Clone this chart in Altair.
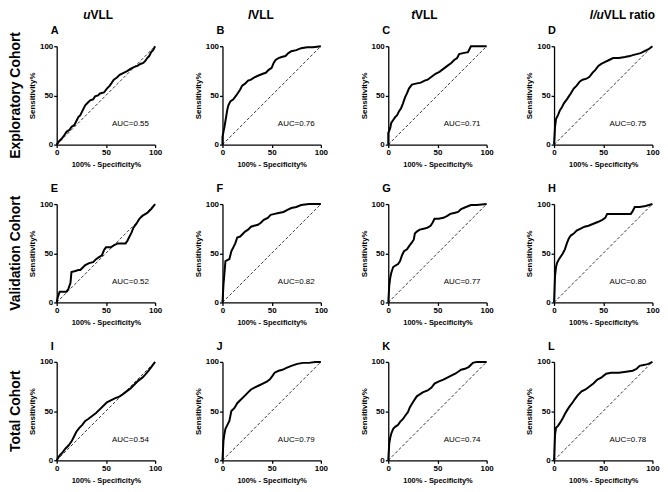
import altair as alt
import pandas as pd

FONT = "Liberation Sans"

# ---- data ----
A_fpr = [0, 2, 5, 8, 10, 13, 15, 18, 22, 24, 26, 29, 31, 34, 37, 39, 42, 44, 48, 51, 54, 58, 61, 64, 68, 72, 75, 79, 82, 85, 88, 90, 92, 94, 96, 98, 100]
A_tpr = [0, 3, 6, 10, 13, 15, 18, 20, 28, 30, 34, 40, 42, 45, 46, 49, 50, 52, 53, 57, 60, 66, 68, 71, 73, 75, 77, 79, 80, 82, 83, 85, 88, 90, 94, 96, 100]
B_fpr = [0, 0, 1, 2, 3, 5, 6, 8, 11, 14, 16, 18, 20, 23, 26, 29, 32, 36, 41, 44, 47, 50, 52, 54, 57, 60, 64, 67, 70, 75, 80, 86, 92, 100]
B_tpr = [0, 8, 13, 18, 24, 36, 40, 44, 46, 50, 53, 56, 60, 62, 65, 66, 68, 70, 72, 73, 76, 78, 83, 86, 88, 89, 90, 93, 95, 96, 98, 99, 99, 100]
C_fpr = [0, 0, 1, 2, 3, 5, 7, 9, 11, 13, 15, 17, 19, 21, 24, 28, 33, 37, 40, 44, 48, 52, 56, 60, 64, 67, 70, 72, 76, 81, 84, 90, 100]
C_tpr = [0, 12, 14, 17, 22, 25, 28, 30, 34, 37, 42, 48, 52, 57, 61, 62, 63, 65, 66, 69, 72, 74, 77, 80, 83, 86, 88, 92, 93, 94, 100, 100, 100]
D_fpr = [0, 1, 2, 4, 6, 8, 10, 13, 15, 17, 20, 23, 26, 29, 33, 36, 39, 42, 45, 48, 52, 56, 60, 66, 72, 77, 80, 84, 88, 92, 96, 100]
D_tpr = [0, 18, 26, 30, 35, 38, 42, 46, 49, 52, 57, 60, 64, 66, 67, 69, 73, 76, 80, 82, 84, 86, 88, 88, 89, 90, 91, 92, 93, 95, 97, 100]
E_fpr = [0, 1, 3, 10, 12, 14, 15, 19, 22, 24, 26, 29, 33, 37, 40, 43, 46, 48, 50, 55, 58, 62, 66, 70, 72, 74, 76, 78, 81, 84, 87, 92, 96, 100]
E_tpr = [0, 5, 11, 11, 14, 20, 31, 32, 33, 33, 35, 38, 40, 41, 44, 46, 48, 53, 56, 56, 58, 60, 60, 60, 63, 67, 71, 76, 80, 85, 88, 91, 95, 100]
F_fpr = [0, 1, 2, 3, 5, 7, 9, 11, 13, 15, 18, 20, 23, 26, 29, 32, 36, 39, 42, 46, 49, 53, 57, 62, 66, 70, 75, 80, 88, 100]
F_tpr = [0, 18, 30, 42, 43, 44, 52, 56, 60, 66, 67, 69, 72, 74, 77, 78, 79, 81, 84, 86, 89, 90, 91, 92, 94, 96, 97, 99, 100, 100]
G_fpr = [0, 1, 2, 3, 5, 8, 10, 12, 14, 16, 19, 21, 24, 26, 27, 29, 32, 36, 40, 43, 45, 47, 51, 56, 60, 63, 67, 71, 74, 79, 84, 90, 100]
G_tpr = [0, 17, 25, 30, 36, 38, 39, 42, 48, 52, 54, 57, 61, 64, 70, 72, 74, 75, 76, 78, 81, 85, 85, 86, 88, 90, 91, 92, 95, 97, 99, 99, 100]
H_fpr = [0, 1, 2, 3, 5, 7, 9, 11, 13, 15, 17, 20, 23, 27, 31, 35, 40, 45, 49, 52, 54, 60, 70, 78, 80, 82, 87, 93, 100]
H_tpr = [0, 27, 36, 40, 44, 47, 50, 54, 60, 65, 68, 70, 73, 75, 77, 78, 80, 82, 84, 86, 90, 90, 90, 90, 93, 97, 97, 98, 100]
I_fpr = [0, 3, 6, 9, 12, 15, 18, 20, 23, 26, 29, 32, 36, 40, 44, 48, 51, 55, 59, 62, 64, 67, 71, 75, 79, 83, 87, 90, 94, 97, 100]
I_tpr = [0, 5, 8, 12, 15, 19, 25, 29, 33, 36, 40, 42, 45, 48, 52, 56, 59, 61, 63, 64, 65, 67, 70, 73, 77, 81, 84, 87, 92, 96, 100]
J_fpr = [0, 1, 2, 3, 5, 7, 9, 12, 15, 18, 22, 26, 29, 33, 37, 41, 45, 48, 51, 53, 57, 61, 65, 70, 76, 82, 88, 94, 100]
J_tpr = [0, 20, 27, 32, 36, 40, 50, 53, 58, 61, 65, 69, 72, 74, 76, 78, 80, 82, 86, 89, 91, 92, 94, 96, 98, 99, 99, 100, 100]
K_fpr = [0, 1, 2, 3, 5, 7, 10, 12, 15, 17, 20, 22, 25, 29, 32, 35, 40, 44, 47, 51, 56, 60, 64, 68, 71, 74, 78, 82, 86, 90, 100]
K_tpr = [0, 17, 23, 27, 32, 34, 36, 39, 42, 45, 49, 54, 59, 65, 67, 69, 71, 74, 78, 80, 82, 84, 86, 88, 90, 92, 93, 95, 99, 100, 100]
L_fpr = [0, 1, 2, 4, 6, 9, 11, 14, 16, 19, 21, 24, 28, 32, 36, 40, 44, 48, 53, 58, 66, 73, 80, 84, 87, 92, 96, 100]
L_tpr = [0, 26, 33, 35, 38, 43, 47, 52, 55, 59, 62, 66, 70, 72, 75, 78, 82, 84, 88, 89, 89, 90, 91, 93, 96, 97, 98, 100]

curves_fpr = [A_fpr, B_fpr, C_fpr, D_fpr, E_fpr, F_fpr, G_fpr, H_fpr, I_fpr, J_fpr, K_fpr, L_fpr]
curves_tpr = [A_tpr, B_tpr, C_tpr, D_tpr, E_tpr, F_tpr, G_tpr, H_tpr, I_tpr, J_tpr, K_tpr, L_tpr]
auc_values = ["0.55", "0.76", "0.71", "0.75", "0.52", "0.82", "0.77", "0.80", "0.54", "0.79", "0.74", "0.78"]
panel_letters = ["A", "B", "C", "D", "E", "F", "G", "H", "I", "J", "K", "L"]
row_labels = ["Exploratory Cohort", "Validation Cohort", "Total Cohort"]
header_italic = ["u", "l", "t", "l/u"]
header_rest = ["VLL", "VLL", "VLL", "VLL ratio"]
header_split = [34, 29, 27, 50]
tick_values = [0, 50, 100]

W = 99
H = 99

xenc = alt.X("fpr:Q", scale=alt.Scale(domain=[0, 100], nice=False),
             axis=alt.Axis(values=tick_values, title="100% - Specificity%", labelFlush=False,
                           titlePadding=4, titleFontSize=7.5))
yenc = alt.Y("tpr:Q", scale=alt.Scale(domain=[0, 100], nice=False),
             axis=alt.Axis(values=tick_values, title="Sensitivity%", labelFlush=False,
                           titlePadding=3, titleFontSize=8))


def one(t):
    return pd.DataFrame({"t": [t]})


def panel(i):
    r, c = divmod(i, 4)
    df = pd.DataFrame({"fpr": curves_fpr[i], "tpr": curves_tpr[i], "o": list(range(len(curves_fpr[i])))})
    diag = alt.Chart(pd.DataFrame({"fpr": [0, 100], "tpr": [0, 100]})).mark_line(
        color="black", strokeWidth=0.8, strokeDash=[3, 2]).encode(x=xenc, y=yenc)
    line = alt.Chart(df).mark_line(color="black", strokeWidth=2, strokeJoin="miter").encode(
        x=xenc, y=yenc, order="o:Q")
    auc = alt.Chart(pd.DataFrame({"fpr": [75], "tpr": [21], "t": ["AUC=" + auc_values[i]]})).mark_text(
        font=FONT, fontSize=8, color="black").encode(x=xenc, y=yenc, text="t:N")
    letter = alt.Chart(one(panel_letters[i])).mark_text(
        font=FONT, fontSize=11, fontWeight="bold", align="left", baseline="alphabetic", color="black"
    ).encode(x=alt.value(-6), y=alt.value(-12), text="t:N")
    layers = [diag, line, auc, letter]
    if r == 0:
        layers.append(alt.Chart(one(header_italic[c])).mark_text(
            font=FONT, fontSize=12, fontWeight="bold", fontStyle="italic", align="right",
            baseline="alphabetic", color="black").encode(
            x=alt.value(header_split[c]), y=alt.value(-27), text="t:N"))
        layers.append(alt.Chart(one(header_rest[c])).mark_text(
            font=FONT, fontSize=12, fontWeight="bold", align="left",
            baseline="alphabetic", color="black").encode(
            x=alt.value(header_split[c]), y=alt.value(-27), text="t:N"))
    if c == 0:
        layers.append(alt.Chart(one(row_labels[r])).mark_text(
            font=FONT, fontSize=14, fontWeight="bold", angle=270, align="center",
            baseline="middle", color="black").encode(
            x=alt.value(-41), y=alt.value(H / 2), text="t:N"))
    return alt.layer(*layers).properties(width=W, height=H)


rows = [alt.hconcat(*[panel(r * 4 + c) for c in range(4)], spacing=31.8) for r in range(3)]
chart = alt.vconcat(*rows, spacing=14.8).properties(
    padding={"left": 0, "top": 0, "right": 0, "bottom": 0}
).configure_view(stroke=None).configure_axis(
    grid=False, domainColor="black", domainWidth=1.3, tickColor="black", tickWidth=1.3, tickSize=3,
    labelFont=FONT, labelFontSize=8, labelFontWeight="bold", labelColor="black", labelPadding=1,
    titleFont=FONT, titleFontWeight="bold", titleColor="black"
)

chart.save("out.html", embed_options={"renderer": "svg", "actions": False})
